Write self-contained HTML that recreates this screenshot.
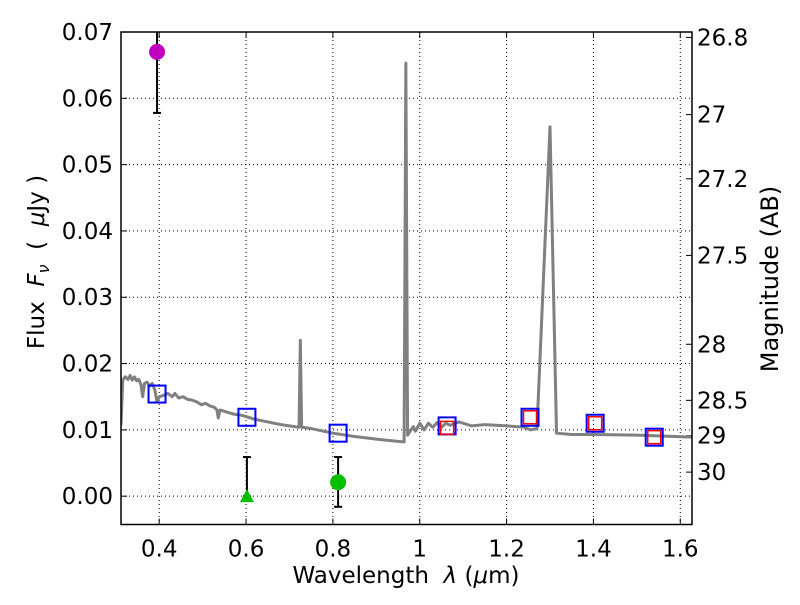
<!DOCTYPE html>
<html><head><meta charset="utf-8"><style>
body{margin:0;background:#fff}
svg text{font-family:"DejaVu Sans","Liberation Sans",sans-serif;fill:#000;white-space:pre}
</style></head><body>
<svg id="c" width="800" height="600" viewBox="0 0 800 600" xmlns="http://www.w3.org/2000/svg"></svg>
<script>
const xTicks=[0.4,0.6,0.8,1.0,1.2,1.4,1.6];
const xTickLabels=["0.4","0.6","0.8","1","1.2","1.4","1.6"];
const yTicks=[0,0.01,0.02,0.03,0.04,0.05,0.06,0.07];
const yTickLabels=["0.00","0.01","0.02","0.03","0.04","0.05","0.06","0.07"];
const magTicks=[26.8,27,27.2,27.5,28,28.5,29,30];
const magLabels=["26.8","27","27.2","27.5","28","28.5","29","30"];
const specWave=[0.312,0.316,0.322,0.328,0.333,0.338,0.343,0.348,0.353,0.358,0.362,0.366,0.372,0.378,0.384,0.39,0.395,0.40,0.41,0.42,0.43,0.436,0.445,0.455,0.465,0.475,0.487,0.497,0.507,0.517,0.527,0.533,0.536,0.54,0.55,0.57,0.59,0.6,0.62,0.65,0.68,0.70,0.722,0.725,0.728,0.75,0.8,0.85,0.9,0.93,0.96,0.964,0.968,0.972,0.975,0.985,0.99,1.0,1.01,1.02,1.03,1.04,1.05,1.06,1.07,1.09,1.12,1.15,1.2,1.24,1.255,1.27,1.30,1.315,1.35,1.4,1.5,1.627];
const specFlux=[0.0107,0.0175,0.0180,0.0176,0.0182,0.0175,0.0180,0.0174,0.0176,0.0168,0.0150,0.0170,0.0172,0.0166,0.0170,0.0160,0.0142,0.0150,0.0152,0.0155,0.0150,0.0155,0.0148,0.0150,0.0146,0.0145,0.0142,0.0138,0.0140,0.0136,0.0134,0.0130,0.0118,0.0130,0.0128,0.0124,0.0122,0.0120,0.0116,0.0112,0.0108,0.0106,0.0104,0.0235,0.0104,0.0102,0.0095,0.0090,0.0086,0.0084,0.0082,0.0082,0.0653,0.0092,0.0095,0.0105,0.0098,0.0110,0.0100,0.0110,0.0104,0.0111,0.0104,0.0110,0.0107,0.0112,0.0106,0.0108,0.0106,0.0104,0.0100,0.0102,0.0557,0.0095,0.0093,0.0093,0.0092,0.0089];
const bandWave=[0.395,0.602,0.812,1.063,1.254,1.404,1.540];
const bandFlux=[0.0154,0.0119,0.0095,0.0106,0.0119,0.0110,0.0089];
const modelWave=[1.063,1.254,1.404,1.540];
const modelFlux=[0.0103,0.0119,0.0110,0.0089];
const obsWave=[0.395,0.812];
const obsFlux=[0.0670,0.0021];
const obsLo=[0.0578,-0.0016];
const obsHi=[0.0760,0.0059];
const obsColor=["#bf00bf","#00bf00"];
const ulWave=[0.602];
const ulFlux=[0.0];
const ulHi=[0.0059];

const L=121,R=692,T=32,B=524.5;
const xmin=0.312,xmax=1.627,ymin=-0.00427,ymax=0.07;
const X=v=>L+(v-xmin)/(xmax-xmin)*(R-L);
const Y=v=>T+(ymax-v)/(ymax-ymin)*(B-T);
const magToFlux=m=>Math.pow(10,(23.9-m)/2.5);
const svg=document.getElementById('c');
const NS="http://www.w3.org/2000/svg";
function mk(tag,attrs){const e=document.createElementNS(NS,tag);for(const k in attrs)e.setAttribute(k,attrs[k]);svg.appendChild(e);return e;}

const defs=mk('defs',{});
const cp=document.createElementNS(NS,'clipPath');cp.setAttribute('id','pc');
const cr=document.createElementNS(NS,'rect');cr.setAttribute('x',L);cr.setAttribute('y',T);cr.setAttribute('width',R-L);cr.setAttribute('height',B-T);
cp.appendChild(cr);defs.appendChild(cp);

xTicks.forEach((v,i)=>{
 const g=mk('line',{x1:X(v),x2:X(v),y1:T,y2:B,stroke:'#000','stroke-width':1,'stroke-dasharray':'1,3'});
 
 
 mk('line',{x1:X(v),x2:X(v),y1:B,y2:B-6,stroke:'#000'});
 mk('line',{x1:X(v),x2:X(v),y1:T,y2:T+6,stroke:'#000'});
 const t=mk('text',{x:X(v),y:B+32,'font-size':23,'text-anchor':'middle'});t.textContent=xTickLabels[i];
 
 
});
yTicks.forEach((v,i)=>{
 const g=mk('line',{x1:L,x2:R,y1:Y(v),y2:Y(v),stroke:'#000','stroke-width':1,'stroke-dasharray':'1,3'});
 
 
 mk('line',{x1:L,x2:L+6,y1:Y(v),y2:Y(v),stroke:'#000'});
 const t=mk('text',{x:L-8,y:Y(v)+8,'font-size':23,'text-anchor':'end'});t.textContent=yTickLabels[i];
 
 
});
magTicks.forEach((m,i)=>{
 const y=Y(magToFlux(m));
 mk('line',{x1:R,x2:R-6,y1:y,y2:y,stroke:'#000'});
 const t=mk('text',{x:R+5,y:y+8,'font-size':23});t.textContent=magLabels[i];
 
 
});

const pts=specWave.map((w,i)=>X(w)+','+Y(specFlux[i])).join(' ');
const sp=mk('polyline',{points:pts,fill:'none',stroke:'#808080','stroke-width':3,'stroke-linejoin':'round','clip-path':'url(#pc)'});



bandWave.forEach((w,i)=>{
 const r=mk('rect',{x:X(w)-8.5,y:Y(bandFlux[i])-8.5,width:17,height:17,fill:'none',stroke:'#0000ff','stroke-width':2});
 
 
});
modelWave.forEach((w,i)=>{
 const r=mk('rect',{x:X(w)-6.5,y:Y(modelFlux[i])-6.5,width:13,height:13,fill:'none',stroke:'#ff0000','stroke-width':1.5});
 
 
});
obsWave.forEach((w,i)=>{
 const x=X(w);
 const e=mk('line',{x1:x,x2:x,y1:Y(obsLo[i]),y2:Y(obsHi[i]),stroke:'#000','stroke-width':2,'clip-path':'url(#pc)'});
 
 
 [obsLo[i],obsHi[i]].forEach(v=>mk('line',{x1:x-4,x2:x+4,y1:Y(v),y2:Y(v),stroke:'#000','stroke-width':2,'clip-path':'url(#pc)'}));
 const c=mk('circle',{cx:x,cy:Y(obsFlux[i]),r:8,fill:obsColor[i]});
 
 
});
ulWave.forEach((w,i)=>{
 const x=X(w),y=Y(ulFlux[i]);
 const e=mk('line',{x1:x,x2:x,y1:y,y2:Y(ulHi[i]),stroke:'#000','stroke-width':2});
 
 
 [ulFlux[i],ulHi[i]].forEach(v=>mk('line',{x1:x-4,x2:x+4,y1:Y(v),y2:Y(v),stroke:'#000','stroke-width':2}));
 const p=mk('polygon',{points:`${x},${y-7} ${x-7},${y+6} ${x+7},${y+6}`,fill:'#00bf00'});
 
 
});

const fr=mk('rect',{x:L,y:T,width:R-L,height:B-T,fill:'none',stroke:'#000','stroke-width':1.5});



const xl=mk('text',{x:406,y:583,'font-size':23,'text-anchor':'middle'});
xl.innerHTML='Wavelength  <tspan font-style="italic">λ</tspan> (<tspan font-style="italic">μ</tspan>m)';


const yl=mk('text',{x:0,y:0,'font-size':23,'text-anchor':'middle',transform:'translate(44,262) rotate(-90)'});
yl.innerHTML='Flux  <tspan font-style="italic">F</tspan><tspan font-style="italic" font-size="16" dy="5">ν</tspan><tspan dy="-5">  (  </tspan><tspan font-style="italic">μ</tspan>Jy )';


const ml=mk('text',{x:0,y:0,'font-size':24,'text-anchor':'middle',transform:'translate(778,279) rotate(-90)'});
ml.textContent='Magnitude (AB)';


</script>
</body></html>
